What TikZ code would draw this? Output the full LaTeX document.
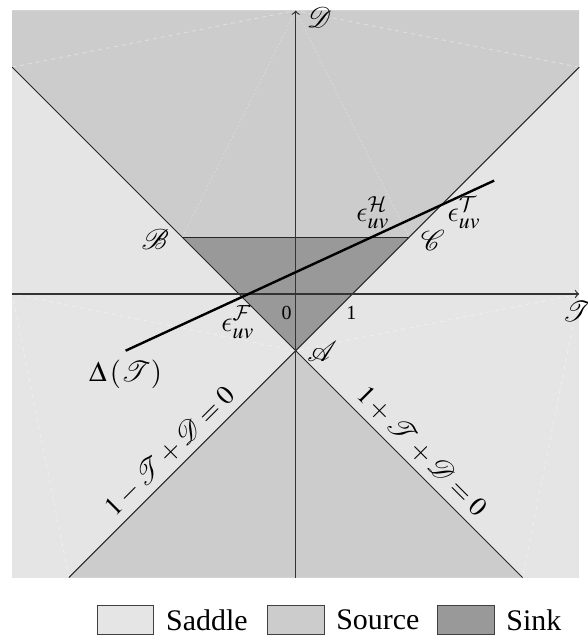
\documentclass[tikz,border=0pt]{standalone}
\usepackage{mathptmx}
\usepackage{mathrsfs}
\usepackage[no-math]{fontspec}
\setmainfont{Liberation Serif}
\DeclareMathAlphabet{\mathcmcal}{OMS}{cmsy}{m}{n}
\DeclareSymbolFont{cmlet}{OML}{cmm}{m}{it}
\DeclareMathSymbol{\lunateps}{\mathord}{cmlet}{"0F}
\definecolor{saddle}{gray}{0.9}
\definecolor{source}{gray}{0.8}
\definecolor{sink}{gray}{0.6}
\begin{document}
\begin{tikzpicture}[x=1cm,y=1cm,
  bound/.style={line width=0.5pt, black!85},
  axis/.style={line width=0.6pt, black!80, ->, >=to},
  faint/.style={white, opacity=0.4, line width=0.4pt, dash pattern=on 2pt off 2pt},
  fainter/.style={white, opacity=0.25, line width=0.4pt, dash pattern=on 1pt off 1pt},
  lab/.style={font=\Large, inner sep=2pt},
  eqlab/.style={font=\fontsize{13.5}{16}\selectfont, inner sep=3.5pt},
  small/.style={font=\normalsize, inner sep=1pt},
  legbox/.style={draw=black!75, line width=0.5pt},
  legtext/.style={font=\fontsize{15}{18}\selectfont, anchor=west, inner sep=0pt}
]
\useasboundingbox (-5.215,-6.102) rectangle (5.138,5.185);
\coordinate (A) at (0,-1);
\coordinate (B) at (-2,1);
\coordinate (C) at (2,1);
\coordinate (TL) at (-5,4);
\coordinate (TR) at (5,4);
\coordinate (BL) at (-4,-5);
\coordinate (BR) at (4,-5);
\coordinate (Top) at (0,5);
\coordinate (Bot) at (0,-5);
\coordinate (Lft) at (-5,0);
\coordinate (Rgt) at (5,0);
\coordinate (D0) at (-3,-1);
\coordinate (D1) at (3.5,2);
\coordinate (ML) at (-2,-3);
\coordinate (MR) at (2,-3);

% regions
\fill[saddle] (-5,-5) rectangle (5,5);
\fill[source] (TL) -- (-5,5) -- (5,5) -- (TR) -- (C) -- (B) -- cycle;
\fill[sink] (B) -- (C) -- (A) -- cycle;
\fill[source] (A) -- (BL) -- (BR) -- cycle;

% faint boundaries
\draw[faint] (TL) -- (Top) -- (TR);
\draw[fainter] (B) -- (Top) -- (C);
\draw[faint] (BL) -- (Lft) -- (A) -- (Rgt) -- (BR);

% boundary lines
\draw[bound] (TL) -- (BR);
\draw[bound] (BL) -- (TR);
\draw[bound] (B) -- (C);

% axes
\draw[axis] (Lft) -- (Rgt);
\draw[axis] (Bot) -- (Top);

% Delta line
\draw[line width=1.2pt, black] (D0) -- (D1);

% labels
\node[lab, anchor=west] (lD) at (0.12,4.87) {$\mathscr{D}$};
\node[lab, anchor=north] (lT) at (4.97,-0.06) {$\mathscr{T}$};
\node[lab, anchor=east] (lB) at (-2.16,0.97) {$\mathscr{B}$};
\node[lab, anchor=west] (lC) at (2.13,0.94) {$\mathscr{C}$};
\node[lab, anchor=west] (lA) at (0.13,-1.02) {$\mathscr{A}$};
\node[small] (l0) at (-0.16,-0.34) {0};
\node[small] (l1) at (0.98,-0.34) {1};
\node[lab] (lF) at (-1.02,-0.5) {$\lunateps_{uv}^{\mathcmcal{F}}$};
\node[lab] (lH) at (1.36,1.43) {$\lunateps_{uv}^{\mathcmcal{H}}$};
\node[lab] (lTT) at (2.97,1.43) {$\lunateps_{uv}^{\mathcmcal{T}}$};
\node[lab] (lDelta) at (-3.0,-1.41) {$\Delta\left(\mathscr{T}\right)$};
\node[eqlab, rotate=45, anchor=south] (eqL) at (ML) {$1-\mathscr{T}+\mathscr{D}=0$};
\node[eqlab, rotate=-45, anchor=south] (eqR) at (MR) {$1+\mathscr{T}+\mathscr{D}=0$};

% legend
\draw[legbox, fill=saddle] (-3.5,-6) rectangle (-2.5,-5.5);
\node[legtext] (tS) at (-2.29,-5.75) {Saddle};
\draw[legbox, fill=source] (-0.5,-6) rectangle (0.5,-5.5);
\node[legtext] (tSo) at (0.71,-5.75) {Source};
\draw[legbox, fill=sink] (2.5,-6) rectangle (3.5,-5.5);
\node[legtext] (tSi) at (3.71,-5.75) {Sink};
\end{tikzpicture}
\end{document}
